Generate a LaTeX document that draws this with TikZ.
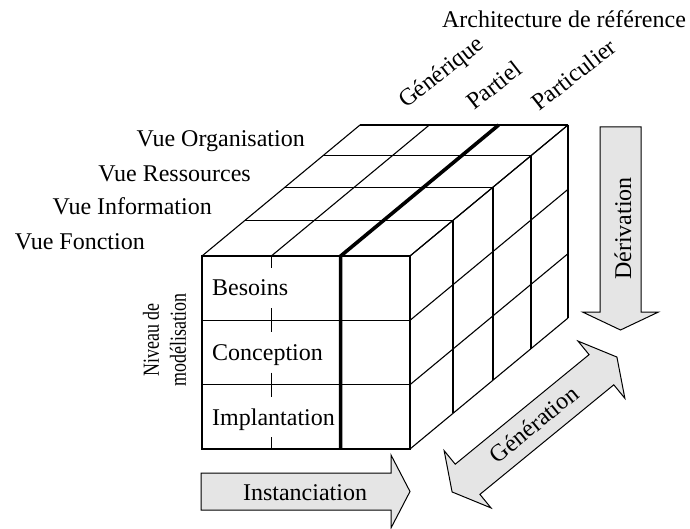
\documentclass[tikz,border=0pt]{standalone}
\usepackage{graphicx}
\usepackage{fontspec}
\setmainfont{Liberation Serif}
\begin{document}
\begin{tikzpicture}[x=1pt,y=-1pt,
  cubeline/.style={line width=1.1pt, draw=black},
  thickline/.style={line width=3.6pt, draw=black, line join=round},
  tickline/.style={line width=1.1pt, draw=black, dash pattern=on 24pt off 40.333pt, dash phase=12pt},
  arrowbody/.style={draw=black, line width=1pt, fill=gray!20, line join=miter},
  lbl/.style={font=\fontsize{24}{28}\selectfont, inner sep=0pt, text=black},
  smalllbl/.style={inner sep=0pt, text=black},
]
\useasboundingbox (0,0) rectangle (690,529);

% ---------- cube: top face ----------
\foreach \t in {0.272,0.525,0.766,1}
  \draw[cubeline] ({202+\t*158},{256-\t*131}) -- ++(208,0);
\foreach \j in {0,1,3}
  \draw[cubeline] ({202+\j*69.333},256) -- ++(158,-131);

% ---------- cube: right face ----------
\foreach \t in {0.272,0.525,0.766,1}
  \draw[cubeline] ({410+\t*158},{256-\t*131}) -- ++(0,193);
\foreach \i in {0,1,2,3}
  \draw[cubeline] (410,{256+\i*64.333}) -- ++(158,-131);

% ---------- cube: front face ----------
\draw[cubeline] (202,256) rectangle (410,449);
\foreach \i in {1,2}
  \draw[cubeline] (202,{256+\i*64.333}) -- (410,{256+\i*64.333});
\draw[tickline] (271.333,256) -- (271.333,449);
\draw[thickline] (340.667,449) -- (340.667,256) -- ++(158,-131);

% ---------- arrows ----------
% Derivation (down)
\draw[arrowbody] (600,127) -- (641,127) -- (641,312) -- (658.5,312) -- (620.5,330)
  -- (582.5,312) -- (600,312) -- cycle;
% Instanciation (right)
\draw[arrowbody] (201,473) -- (391,473) -- (391,455) -- (410,491.5) -- (391,528)
  -- (391,510) -- (201,510) -- cycle;
% Generation (double)
\begin{scope}[shift={(534.5,424.5)},rotate=39.3]
  \draw[arrowbody] (-106.5,0) -- (-86.5,37) -- (-86.5,19.5) -- (86.5,19.5) -- (86.5,37)
    -- (106.5,0) -- (86.5,-37) -- (86.5,-19.5) -- (-86.5,-19.5) -- (-86.5,-37) -- cycle;
\end{scope}

% ---------- labels ----------
\node[lbl] (arch) at (564,19.5) {Architecture de référence};
\node[lbl, rotate=38, anchor=base west] (gen) at (406,109) {Générique};
\node[lbl, rotate=38, anchor=base west] (par) at (474,111) {Partiel};
\node[lbl, rotate=38, anchor=base west] (part) at (539,112) {Particulier};

\node[lbl, anchor=base east] (vorg) at (305,147) {Vue Organisation};
\node[lbl, anchor=base east] (vres) at (251,181.5) {Vue Ressources};
\node[lbl, anchor=base east] (vinf) at (212,215) {Vue Information};
\node[lbl, anchor=base east] (vfon) at (145,249) {Vue Fonction};

\node[lbl, anchor=base west] (bes) at (212,295) {Besoins};
\node[lbl, anchor=base west] (con) at (212,360.5) {Conception};
\node[lbl, anchor=base west] (imp) at (212,425) {Implantation};

\node[smalllbl, rotate=90] (niv) at (167,340)
  {\scalebox{0.78}[1]{\fontsize{23}{27}\selectfont\begin{tabular}{@{}c@{}}Niveau de\\modélisation\end{tabular}}};

\node[lbl, anchor=base] (inst) at (305,500) {Instanciation};
\node[lbl, rotate=90, anchor=base] (der) at (631,228.5) {Dérivation};
\node[lbl, rotate=39.3] (gener) at (534,424) {Génération};
\end{tikzpicture}
\end{document}
